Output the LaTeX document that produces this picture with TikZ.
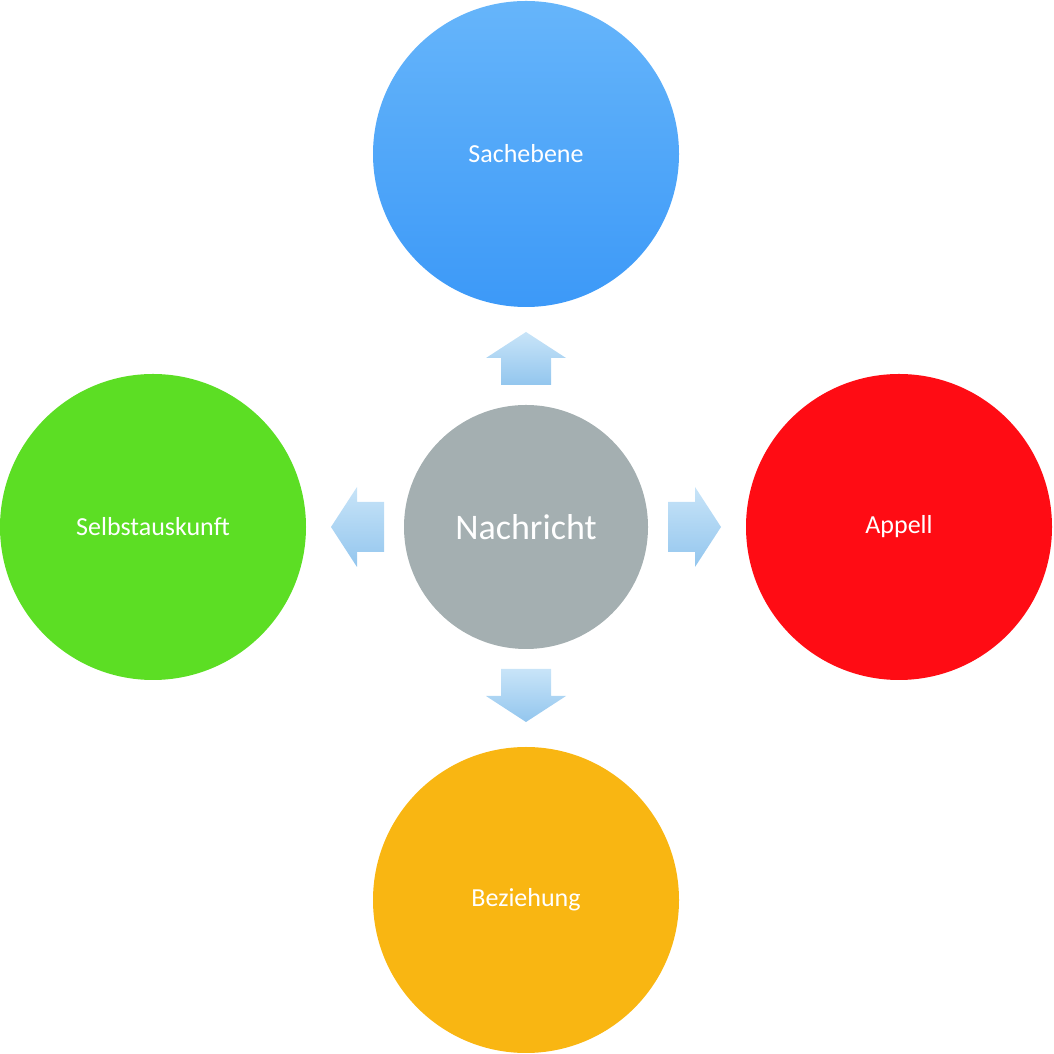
\documentclass[tikz,border=0pt]{standalone}
\usepackage{fontspec}
\setmainfont{Carlito}
\usetikzlibrary{positioning}

\definecolor{sachtop}{HTML}{66B5FA}
\definecolor{sachbot}{HTML}{3C99F8}
\definecolor{selbgreen}{HTML}{5CDE24}
\definecolor{appred}{HTML}{FF0C14}
\definecolor{bezorange}{HTML}{F9B612}
\definecolor{nachgrey}{HTML}{A4AFB1}
\definecolor{arrowlight}{HTML}{C8E4F8}
\definecolor{arrowdark}{HTML}{93C6EE}

\tikzset{
  bigcircle/.style={circle, minimum size=306pt, inner sep=0pt, text=white, font=\fontsize{26}{30}\selectfont},
  midcircle/.style={circle, minimum size=244pt, inner sep=0pt, fill=nachgrey, text=white, font=\fontsize{36}{42}\selectfont},
}

\begin{document}
\begin{tikzpicture}[x=1pt, y=1pt]
\useasboundingbox (0,0) rectangle (1054,1054);

\node[midcircle] (nach) at (526,527) {Nachricht};
\node[bigcircle, top color=sachtop, bottom color=sachbot] (sach) at (526,900) {Sachebene};
\node[bigcircle, fill=selbgreen] (selb) at (153,527) {Selbstauskunft};
\node[bigcircle, fill=appred] (app) at (899,527) {Appell};
\node[bigcircle, fill=bezorange] (bez) at (526,154) {Beziehung};

% block arrows, drawn pointing up then rotated
\foreach \ang in {0,90,180,270} {
  \begin{scope}[shift={(nach.center)}, rotate=-\ang]
    \shade[top color=arrowlight, bottom color=arrowdark]
      (-25,142) -- (25,142) -- (25,169) -- (40,169) -- (0,195)
      -- (-40,169) -- (-25,169) -- cycle;
  \end{scope}
}
\end{tikzpicture}
\end{document}
